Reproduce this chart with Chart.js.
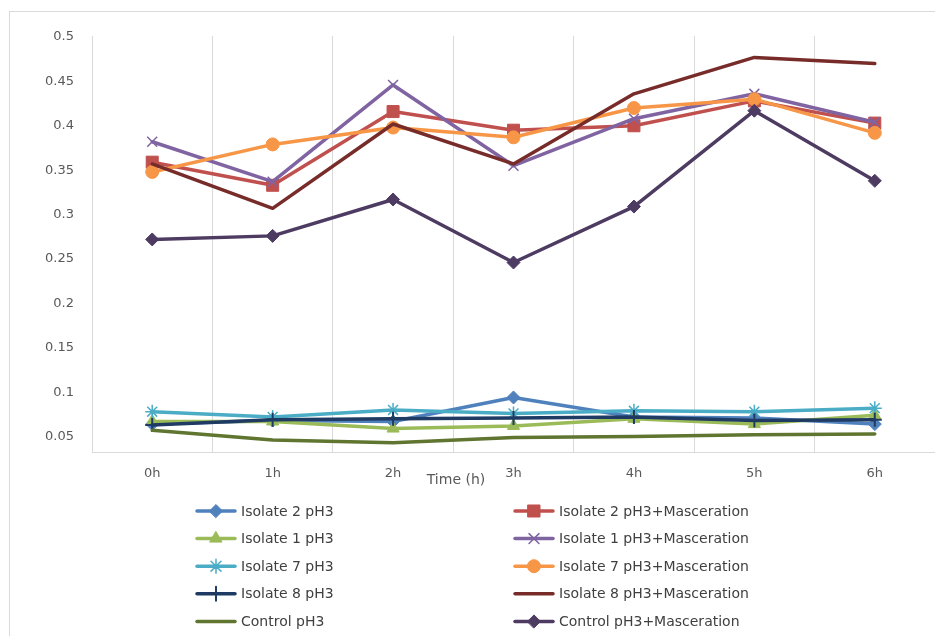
<!DOCTYPE html>
<html>
<head>
<meta charset="utf-8">
<script src="https://cdn.jsdelivr.net/npm/chart.js@4.4.1/dist/chart.umd.min.js"></script>
<style>
  html, body { margin: 0; padding: 0; background: #ffffff; }
  #wrap { position: relative; width: 935px; height: 636px; overflow: hidden; }
  #frame { position: absolute; left: 9px; top: 11px; width: 1000px; height: 700px;
           border-left: 1px solid #d9d9d9; border-top: 1px solid #d9d9d9; }
  #c { position: absolute; left: 0; top: 0; }
</style>
</head>
<body>
<div id="wrap">
  <div id="frame"></div>
  <canvas id="c" width="935" height="636"></canvas>
</div>
<script>
// Sampling times
const timePoints = ['0h', '1h', '2h', '3h', '4h', '5h', '6h'];

// Value axis ticks
const yTicks = [0.05, 0.1, 0.15, 0.2, 0.25, 0.3, 0.35, 0.4, 0.45, 0.5];

// Absorbance readings per series
const isolate2 = [0.064, 0.068, 0.067, 0.094, 0.072, 0.071, 0.064];
const isolate2Masc = [0.359, 0.333, 0.416, 0.395, 0.400, 0.428, 0.403];
const isolate1 = [0.067, 0.067, 0.059, 0.062, 0.070, 0.064, 0.074];
const isolate1Masc = [0.382, 0.337, 0.446, 0.355, 0.408, 0.436, 0.404];
const isolate7 = [0.078, 0.072, 0.080, 0.076, 0.079, 0.078, 0.082];
const isolate7Masc = [0.348, 0.379, 0.398, 0.387, 0.420, 0.430, 0.392];
const isolate8 = [0.063, 0.069, 0.070, 0.071, 0.072, 0.068, 0.069];
const isolate8Masc = [0.357, 0.307, 0.402, 0.357, 0.436, 0.477, 0.470];
const control = [0.057, 0.046, 0.043, 0.049, 0.050, 0.052, 0.053];
const controlMasc = [0.272, 0.276, 0.317, 0.246, 0.309, 0.417, 0.338];

const FONT = '"DejaVu Sans", sans-serif';
const TEXT = '#595959';
const GRID = '#d9d9d9';

const seriesDefs = [
  { label: 'Isolate 2 pH3', data: isolate2, color: '#4F81BD', style: 'rectRot', r: 6.5, bw: 1 },
  { label: 'Isolate 2 pH3+Masceration', data: isolate2Masc, color: '#C0504D', style: 'rect', r: 8.5, bw: 1 },
  { label: 'Isolate 1 pH3', data: isolate1, color: '#9BBB59', style: 'triangle', r: 7, bw: 1 },
  { label: 'Isolate 1 pH3+Masceration', data: isolate1Masc, color: '#8064A2', style: 'crossRot', r: 7, bw: 1.5 },
  { label: 'Isolate 7 pH3', data: isolate7, color: '#4BACC6', style: 'star', r: 7, bw: 1.5 },
  { label: 'Isolate 7 pH3+Masceration', data: isolate7Masc, color: '#F79646', style: 'circle', r: 6.5, bw: 1 },
  { label: 'Isolate 8 pH3', data: isolate8, color: '#1F3B63', style: 'cross', r: 7, bw: 2 },
  { label: 'Isolate 8 pH3+Masceration', data: isolate8Masc, color: '#772C2A', style: 'circle', r: 0, bw: 0 },
  { label: 'Control pH3', data: control, color: '#5F7530', style: 'circle', r: 0, bw: 0 },
  { label: 'Control pH3+Masceration', data: controlMasc, color: '#4D3B62', style: 'rectRot', r: 6.5, bw: 1 }
];

const datasets = seriesDefs.map((s, i) => ({
  label: s.label,
  data: s.data,
  borderColor: s.color,
  backgroundColor: s.color,
  borderWidth: 3.5,
  borderJoinStyle: 'round',
  borderCapStyle: 'round',
  tension: 0,
  pointStyle: s.style,
  pointRadius: s.r,
  pointHoverRadius: s.r,
  pointBorderWidth: s.bw,
  pointBackgroundColor: s.color,
  pointBorderColor: s.color,
  clip: false,
  order: seriesDefs.length - i   // later series painted on top
}));

// Two-column legend under the plot, rows filled left to right
const gridLegend = {
  id: 'gridLegend',
  afterDraw(chart, args, o) {
    const ctx = chart.ctx;
    ctx.save();
    chart.data.datasets.forEach((ds, i) => {
      const col = i % 2, row = Math.floor(i / 2);
      const x0 = o.columns[col];
      const y = o.top + row * o.rowGap;
      ctx.lineCap = 'round';
      ctx.strokeStyle = ds.borderColor;
      ctx.lineWidth = ds.borderWidth;
      ctx.beginPath();
      ctx.moveTo(x0, y);
      ctx.lineTo(x0 + o.sample, y);
      ctx.stroke();
      if (ds.pointRadius > 0) {
        ctx.fillStyle = ds.pointBackgroundColor;
        ctx.strokeStyle = ds.pointBorderColor;
        ctx.lineWidth = ds.pointBorderWidth;
        Chart.helpers.drawPoint(ctx, {
          pointStyle: ds.pointStyle, radius: ds.pointRadius,
          borderWidth: ds.pointBorderWidth, rotation: 0
        }, x0 + o.sample / 2, y);
      }
      ctx.fillStyle = o.color;
      ctx.font = o.font;
      ctx.textAlign = 'left';
      ctx.textBaseline = 'middle';
      ctx.fillText(ds.label, x0 + o.sample + o.gap, y + 1);
    });
    ctx.restore();
  }
};

// Category axis title
const axisTitle = {
  id: 'axisTitle',
  afterDraw(chart, args, o) {
    const ctx = chart.ctx;
    ctx.save();
    ctx.font = o.font;
    ctx.fillStyle = o.color;
    ctx.textAlign = 'center';
    ctx.textBaseline = 'middle';
    ctx.fillText(o.text, o.x, o.y);
    ctx.restore();
  }
};

new Chart(document.getElementById('c'), {
  type: 'line',
  data: { labels: timePoints, datasets },
  plugins: [gridLegend, axisTitle],
  options: {
    responsive: false,
    animation: false,
    events: [],
    layout: { autoPadding: false, padding: { top: 36, left: 0, right: 0, bottom: 0 } },
    plugins: {
      legend: { display: false },
      tooltip: { enabled: false },
      gridLegend: { columns: [197, 515], top: 511, rowGap: 27.6, sample: 38, gap: 6,
                    font: '14px ' + FONT, color: '#404040' },
      axisTitle: { text: 'Time (h)', x: 456, y: 480, font: '14px ' + FONT, color: TEXT }
    },
    scales: {
      x: {
        offset: true,
        grid: { offset: true, color: GRID, lineWidth: 1, drawTicks: false },
        border: { color: GRID, width: 1 },
        ticks: { padding: 14, color: TEXT, font: { family: FONT, size: 13 } },
        afterFit(s) { s.height = 184; s.paddingLeft = 0; s.paddingRight = 0; }
      },
      y: {
        min: 0.0326,
        max: 0.5011,
        grid: { display: false, drawTicks: false },
        border: { display: true, color: GRID, width: 1 },
        ticks: {
          padding: 18, color: TEXT, font: { family: FONT, size: 13 },
          callback: v => String(+v.toFixed(2))
        },
        afterBuildTicks(s) { s.ticks = yTicks.map(v => ({ value: v })); },
        afterFit(s) { s.width = 92; s.paddingTop = 0; s.paddingBottom = 0; }
      }
    }
  }
});
</script>
</body>
</html>
